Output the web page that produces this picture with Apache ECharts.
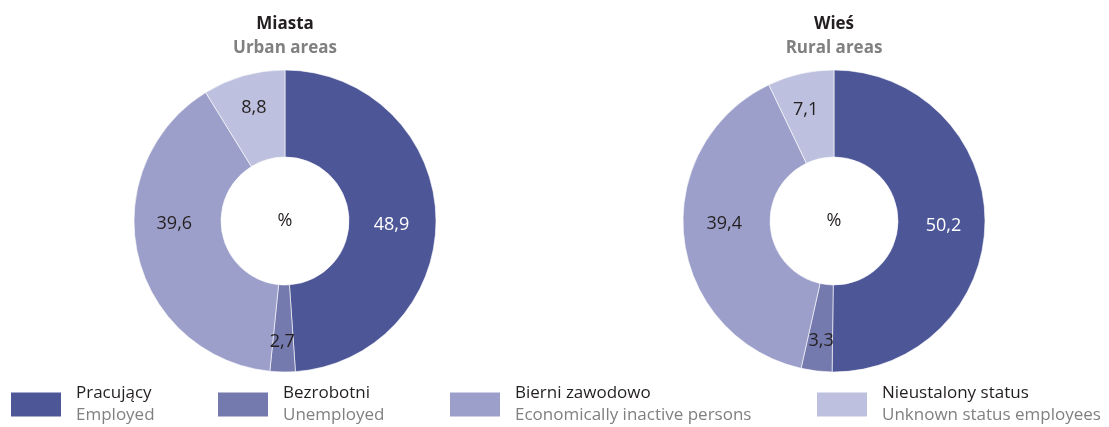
<!DOCTYPE html>
<html>
<head>
<meta charset="utf-8">
<script src="https://cdn.jsdelivr.net/npm/echarts@6/dist/echarts.min.js"></script>
<style>
html,body{margin:0;padding:0;background:#fff;}
#chart{width:1109px;height:427px;}
</style>
</head>
<body>
<div id="chart"></div>
<script>
// ---- data ----
const categoriesPL = ['Pracujący', 'Bezrobotni', 'Bierni zawodowo', 'Nieustalony status'];
const categoriesEN = ['Employed', 'Unemployed', 'Economically inactive persons', 'Unknown status employees'];
const urbanValues = [48.9, 2.7, 39.6, 8.8];
const ruralValues = [50.2, 3.3, 39.4, 7.1];
const titlesPL = ['Miasta', 'Wieś'];
const titlesEN = ['Urban areas', 'Rural areas'];

// ---- style ----
const colors = ['#4d5798', '#7479ae', '#9c9fc9', '#bdc0de'];
const labelColors = ['#ffffff', '#231f20', '#231f20', '#231f20'];
const urbanLabelOffsets = [[-4, 8], [-1, 10], [-3, -22], [-1, -7]];
const ruralLabelOffsets = [[-1, 4], [0, 10], [0, -10], [-4, -3]];
const FONT = '"Open Sans", "Noto Sans", sans-serif';
const DARK = '#231f20';
const GREY = '#808080';

function buildData(values, offsets) {
  return values.map((v, i) => ({
    name: categoriesPL[i],
    value: v,
    itemStyle: { color: colors[i] },
    label: { color: labelColors[i], offset: offsets[i] }
  }));
}

function pieSeries(values, offsets, cx) {
  return {
    type: 'pie',
    center: [cx, 221],
    radius: [64, 151],
    startAngle: 90,
    clockwise: true,
    avoidLabelOverlap: false,
    silent: true,
    itemStyle: { borderColor: '#ffffff', borderWidth: 0.6 },
    label: {
      show: true,
      position: 'inside',
      fontFamily: FONT,
      fontSize: 18,
      formatter: p => String(p.value).replace('.', ',')
    },
    labelLine: { show: false },
    data: buildData(values, offsets)
  };
}

const centers = [285, 834];
const legendLefts = [9, 216, 448, 815];

const titles = [];
centers.forEach((cx, i) => {
  titles.push({
    text: titlesPL[i],
    subtext: titlesEN[i],
    left: cx,
    top: 13,
    textAlign: 'center',
    itemGap: 2,
    padding: 0,
    textStyle: { fontFamily: FONT, fontSize: 17, fontWeight: 'bold', color: DARK, lineHeight: 22 },
    subtextStyle: { fontFamily: FONT, fontSize: 17, fontWeight: 'bold', color: GREY, lineHeight: 22 }
  });
  titles.push({
    text: '%',
    left: cx,
    top: 210,
    textAlign: 'center',
    padding: 0,
    textStyle: { fontFamily: FONT, fontSize: 18, fontWeight: 'normal', color: DARK, lineHeight: 22 }
  });
});

const legends = categoriesPL.map((name, i) => ({
  data: [name],
  left: legendLefts[i],
  top: 385,
  padding: 0,
  orient: 'horizontal',
  icon: 'rect',
  itemWidth: 52,
  itemHeight: 26,
  selectedMode: false,
  formatter: n => '{a|' + n + '}\n{b|' + categoriesEN[i] + '}',
  textStyle: {
    fontFamily: FONT,
    rich: {
      a: { fontFamily: FONT, fontSize: 17, color: DARK, lineHeight: 22, padding: [0, 0, 0, 9] },
      b: { fontFamily: FONT, fontSize: 17, color: GREY, lineHeight: 22, padding: [0, 0, 0, 9] }
    }
  }
}));

const chart = echarts.init(document.getElementById('chart'), null, { renderer: 'canvas' });
chart.setOption({
  backgroundColor: '#ffffff',
  animation: false,
  title: titles,
  legend: legends,
  series: [
    pieSeries(urbanValues, urbanLabelOffsets, centers[0]),
    pieSeries(ruralValues, ruralLabelOffsets, centers[1])
  ]
});
</script>
</body>
</html>
